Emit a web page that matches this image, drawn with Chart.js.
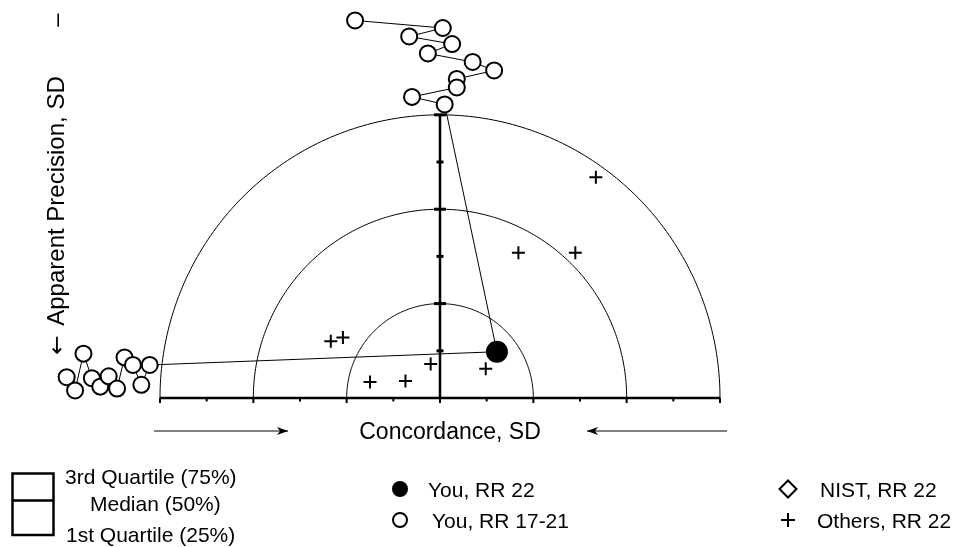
<!DOCTYPE html>
<html>
<head>
<meta charset="utf-8">
<script src="https://cdn.jsdelivr.net/npm/chart.js@4/dist/chart.umd.min.js"></script>
<style>
  body { margin: 0; background: #fff; }
  #wrap { position: relative; width: 959px; height: 547px; font-family: "Liberation Sans", Arial, sans-serif; color: #000; }
  #wrap canvas { position: absolute; left: 0; top: 0; }
  .lbl { position: absolute; white-space: nowrap; line-height: 1; transform: translateY(-50%); font-size: 21px; }
  .rot { position: absolute; left: 56px; font-size: 24px; white-space: nowrap; line-height: 1;
         transform: translate(-50%, -50%) rotate(-90deg); }
  #xtitle { position: absolute; left: 450px; top: 431px; font-size: 23px; white-space: nowrap; line-height: 1;
            transform: translate(-50%, -50%); }
</style>
</head>
<body>
<div id="wrap">
  <canvas id="chart" width="959" height="547"></canvas>
  <div class="rot" style="top:345px;font-family:'DejaVu Sans';font-size:23px">←</div>
  <div class="rot" style="top:201px">Apparent Precision, SD</div>
  <div class="rot" style="top:20px">–</div>
  <div id="xtitle">Concordance, SD</div>
  <div class="lbl" style="left:65px;top:476px">3rd Quartile (75%)</div>
  <div class="lbl" style="left:90px;top:503px">Median (50%)</div>
  <div class="lbl" style="left:66px;top:534px">1st Quartile (25%)</div>
  <div class="lbl" style="left:428px;top:489px">You, RR 22</div>
  <div class="lbl" style="left:432px;top:520px">You, RR 17-21</div>
  <div class="lbl" style="left:820px;top:489px">NIST, RR 22</div>
  <div class="lbl" style="left:817px;top:520px">Others, RR 22</div>
</div>
<script>
// values in SD units
const youX = [0.61];
const youY = [0.49];

const othersX = [1.67, 0.84, 1.45, -1.17, -1.04, -0.10, 0.49, -0.37, -0.75];
const othersY = [2.34, 1.54, 1.54, 0.60, 0.64, 0.36, 0.31, 0.18, 0.17];

// earlier rounds, off-scale points stacked along the top and the left
const topChainX = [-0.91, 0.03, -0.33, 0.13, -0.13, 0.35, 0.58, 0.18, 0.18, -0.30, 0.05];
const topChainY = [4.00, 3.92, 3.83, 3.75, 3.65, 3.56, 3.47, 3.38, 3.29, 3.19, 3.11];
const leftChainX = [-4.00, -3.91, -3.82, -3.73, -3.64, -3.55, -3.46, -3.38, -3.29, -3.20, -3.11];
const leftChainY = [0.22, 0.08, 0.47, 0.21, 0.12, 0.23, 0.10, 0.43, 0.35, 0.14, 0.35];

const arcRadii = [1, 2, 3];
const xTicks = [-3, -2.5, -2, -1.5, -1, -0.5, 0, 0.5, 1, 1.5, 2, 2.5, 3];
const yTicks = [0.5, 1, 1.5, 2, 2.5, 3];

const pts = (xs, ys) => xs.map((x, i) => ({ x: x, y: ys[i] }));

const last = (a) => a[a.length - 1];
const linkData = [
  { x: last(topChainX), y: last(topChainY) },
  { x: youX[0], y: youY[0] },
  { x: last(leftChainX), y: last(leftChainY) },
];

const polarFrame = {
  id: 'polarFrame',
  beforeDatasetsDraw(chart) {
    const ctx = chart.ctx;
    const xs = chart.scales.x, ys = chart.scales.y;
    const px = (v) => xs.getPixelForValue(v);
    const py = (v) => ys.getPixelForValue(v);
    ctx.save();
    ctx.strokeStyle = '#000';

    // half circles
    ctx.lineWidth = 1;
    arcRadii.forEach((r) => {
      ctx.beginPath();
      for (let a = 0; a <= 180; a += 1) {
        const t = a * Math.PI / 180;
        const X = px(r * Math.cos(t)), Y = py(r * Math.sin(t));
        if (a === 0) ctx.moveTo(X, Y); else ctx.lineTo(X, Y);
      }
      ctx.stroke();
    });

    // x axis
    const x0 = px(0), y0 = py(0);
    ctx.lineWidth = 2.5;
    ctx.beginPath();
    ctx.moveTo(px(-3), y0);
    ctx.lineTo(px(3), y0);
    ctx.stroke();
    ctx.lineWidth = 2;
    xTicks.forEach((t) => {
      ctx.beginPath();
      ctx.moveTo(px(t), y0);
      ctx.lineTo(px(t), y0 + (Number.isInteger(t) ? 5 : 3.5));
      ctx.stroke();
    });

    // y axis
    ctx.lineWidth = 2.5;
    ctx.beginPath();
    ctx.moveTo(x0, y0);
    ctx.lineTo(x0, py(3));
    ctx.stroke();
    ctx.lineWidth = 3;
    yTicks.forEach((t) => {
      const w = Number.isInteger(t) ? 6 : 3.5;
      ctx.beginPath();
      ctx.moveTo(x0 - w, py(t));
      ctx.lineTo(x0 + w, py(t));
      ctx.stroke();
    });
    ctx.restore();
  },
  afterDraw(chart) {
    const ctx = chart.ctx;
    ctx.save();
    ctx.strokeStyle = '#000';
    ctx.fillStyle = '#000';

    // arrows under the x axis
    ctx.lineWidth = 1;
    const arrow = (xa, xb, y) => {
      const d = xb > xa ? 1 : -1;
      ctx.beginPath();
      ctx.moveTo(xa, y);
      ctx.lineTo(xb, y);
      ctx.stroke();
      ctx.beginPath();
      ctx.moveTo(xb - d * 11, y - 4);
      ctx.lineTo(xb, y);
      ctx.lineTo(xb - d * 11, y + 4);
      ctx.lineTo(xb - d * 8, y);
      ctx.closePath();
      ctx.fill();
    };
    arrow(154, 288, 431);
    arrow(727, 587, 431);

    // legend symbols
    ctx.lineWidth = 2.5;
    ctx.strokeRect(12.5, 473.5, 41, 61.5);
    ctx.beginPath();
    ctx.moveTo(12.5, 500.5);
    ctx.lineTo(53.5, 500.5);
    ctx.stroke();

    ctx.beginPath();
    ctx.arc(400, 489, 8, 0, Math.PI * 2);
    ctx.fill();

    ctx.lineWidth = 2;
    ctx.beginPath();
    ctx.arc(400, 520, 7, 0, Math.PI * 2);
    ctx.stroke();

    ctx.beginPath();
    ctx.moveTo(788, 480.5);
    ctx.lineTo(796.5, 489);
    ctx.lineTo(788, 497.5);
    ctx.lineTo(779.5, 489);
    ctx.closePath();
    ctx.stroke();

    ctx.beginPath();
    ctx.moveTo(781, 520);
    ctx.lineTo(795, 520);
    ctx.moveTo(788, 513);
    ctx.lineTo(788, 527);
    ctx.stroke();
    ctx.restore();
  }
};

new Chart(document.getElementById('chart'), {
  type: 'scatter',
  data: {
    datasets: [
      {
        label: 'You, RR 22',
        data: pts(youX, youY),
        pointRadius: 11,
        pointBackgroundColor: '#000',
        pointBorderColor: '#000',
        pointBorderWidth: 0,
      },
      {
        label: 'Others, RR 22',
        data: pts(othersX, othersY),
        pointStyle: 'cross',
        pointRadius: 6.5,
        pointBorderColor: '#000',
        pointBorderWidth: 2,
      },
      {
        label: 'You, RR 17-21 (top)',
        data: pts(topChainX, topChainY),
        showLine: true,
        borderColor: '#000',
        borderWidth: 1,
        pointRadius: 8,
        pointBackgroundColor: '#fff',
        pointBorderColor: '#000',
        pointBorderWidth: 2,
      },
      {
        label: 'You, RR 17-21 (left)',
        data: pts(leftChainX, leftChainY),
        showLine: true,
        borderColor: '#000',
        borderWidth: 1,
        pointRadius: 8,
        pointBackgroundColor: '#fff',
        pointBorderColor: '#000',
        pointBorderWidth: 2,
      },
      {
        label: 'links',
        data: linkData,
        showLine: true,
        borderColor: '#000',
        borderWidth: 1,
        pointRadius: 0,
      },
    ],
  },
  plugins: [polarFrame],
  options: {
    responsive: false,
    devicePixelRatio: 1,
    animation: false,
    clip: false,
    layout: { padding: { left: 20, right: 99, top: 8, bottom: 149 } },
    plugins: { legend: { display: false }, tooltip: { enabled: false } },
    scales: {
      x: { type: 'linear', min: -4.5, max: 4.5, display: false },
      y: { type: 'linear', min: 0, max: 4.1, display: false },
    },
  },
});
</script>
</body>
</html>
